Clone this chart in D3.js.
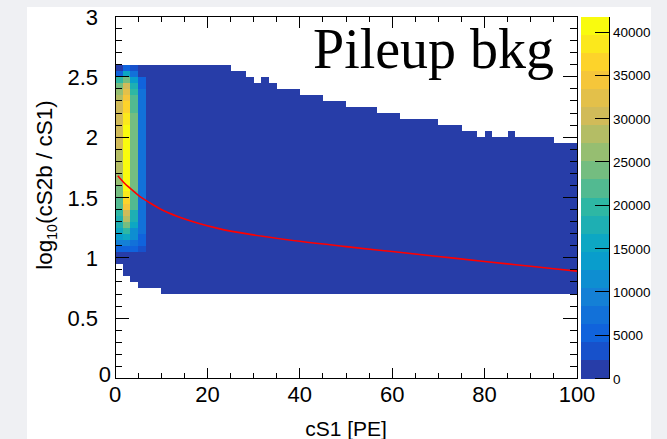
<!DOCTYPE html>
<html><head><meta charset="utf-8">
<script src="https://cdn.jsdelivr.net/npm/d3@7"></script>
<style>
body{margin:0;background:#eff0f3;}
svg{display:block;}
</style>
</head><body>
<svg id="chart" width="667" height="439"></svg>
<script>
// ---------------- DATA ----------------
const xDomain = [0, 100];
const yDomain = [0, 3];
const nXBins = 60;            // cS1 bins over 0..100
const yBinWidth = 0.05;       // log10 bins
// upper edge (log10) of the filled region for each cS1 bin
const topEdge = [2.6,2.6,2.6,2.6,2.6,2.6,2.6,2.6,2.6,2.6,2.6,2.6,2.6,2.6,2.6,
  2.55,2.55,2.5,2.45,2.5,2.45,2.4,2.4,2.4,2.35,2.35,2.35,2.3,2.3,2.3,
  2.25,2.25,2.25,2.25,2.2,2.2,2.2,2.15,2.15,2.15,2.15,2.15,2.1,2.1,2.1,
  2.05,2.05,2.0,2.05,2.0,2.0,2.05,2.0,2.0,2.0,2.0,2.0,1.95,1.95,1.95];
// lower edge (log10) of the filled region for each cS1 bin
const bottomEdge = [0.95,0.85,0.8,0.75,0.75,0.75,
  0.7,0.7,0.7,0.7,0.7,0.7,0.7,0.7,0.7,0.7,0.7,0.7,0.7,0.7,0.7,0.7,0.7,0.7,
  0.7,0.7,0.7,0.7,0.7,0.7,0.7,0.7,0.7,0.7,0.7,0.7,0.7,0.7,0.7,0.7,0.7,0.7,
  0.7,0.7,0.7,0.7,0.7,0.7,0.7,0.7,0.7,0.7,0.7,0.7,0.7,0.7,0.7,0.7,0.7,0.7];
const lowCount = 800;   // typical content of the bulk (lowest colour level)
// dense low-cS1 columns: rows from log10 = 2.55-2.60 (top) down to 0.95-1.00
const denseTop = 2.6;
const col0 = [800,5200,19900,24000,26100,28200,30300,30300,30300,30300,30300,30300,30300,30300,
  28200,28200,28200,28200,26100,26100,24000,24000,22000,22000,19900,17800,17800,15700,13600,9400,5200,800,800];
const col1 = [5200,15700,24000,30300,32400,34500,36600,36600,38700,38700,
  40800,40800,40800,40800,40800,40800,40800,40800,40800,40800,40800,
  38700,36600,34500,30300,28200,24000,19900,15700,9400,5200,800,800];
const col2 = [3100,7300,13600,17800,19900,22000,22000,22000,
  24000,24000,24000,24000,24000,24000,24000,24000,24000,24000,24000,24000,24000,
  22000,22000,22000,17800,17800,15700,11500,11500,7300,5200,800,800];
const col3 = [800,800,5200,5200,
  7300,7300,7300,7300,7300,7300,7300,7300,7300,7300,7300,7300,7300,7300,7300,7300,7300,7300,7300,7300,7300,7300,7300,7300,
  5200,5200,3100,800,800];
const denseCols = [col0, col1, col2, col3];
// red cut curve
const curveX = [0.6, 2, 3.25, 5, 7.6, 10, 14, 18, 22.7, 30, 40, 50, 60, 70, 80, 90, 100];
const curveY = [1.68, 1.62, 1.577, 1.52, 1.454, 1.40, 1.336, 1.286, 1.24, 1.19, 1.137, 1.093, 1.052, 1.011, 0.970, 0.930, 0.89];
// ticks
const xTicks = [0, 20, 40, 60, 80, 100];
const yTicks = [0, 0.5, 1, 1.5, 2, 2.5, 3];
const zTicks = [0, 5000, 10000, 15000, 20000, 25000, 30000, 35000, 40000];
const zMax = 41800;
const nContours = 20;
// ROOT kBird palette
const birdStops = [0.0000, 0.1250, 0.2500, 0.3750, 0.5000, 0.6250, 0.7500, 0.8750, 1.0000];
const birdRed   = [0.2082, 0.0592, 0.0780, 0.0232, 0.1802, 0.5301, 0.8186, 0.9956, 0.9764];
const birdGreen = [0.1664, 0.3599, 0.5041, 0.6419, 0.7178, 0.7492, 0.7328, 0.7862, 0.9832];
const birdBlue  = [0.5293, 0.8684, 0.8385, 0.7914, 0.6425, 0.4662, 0.3499, 0.1968, 0.0539];

// ---------------- LAYOUT ----------------
const svg = d3.select("#chart");
const W = 667, H = 439;
const frame = {l: 115, r: 577, t: 16.5, b: 378.5};
const pal = {l: 581, r: 609};
const fontSans = "'Liberation Sans', Arial, Helvetica, sans-serif";

const x = d3.scaleLinear().domain(xDomain).range([frame.l, frame.r]);
const y = d3.scaleLinear().domain(yDomain).range([frame.b, frame.t]);
const z = d3.scaleLinear().domain([0, zMax]).range([frame.b, frame.t]);

const bird = d3.scaleLinear().domain(birdStops)
  .range(birdStops.map((s, i) => d3.rgb(birdRed[i]*255, birdGreen[i]*255, birdBlue[i]*255)))
  .interpolate(d3.interpolateRgb);
const levelColor = L => bird(Math.floor((L + 0.99) * 255 / nContours) / 254);
const colorOf = v => levelColor(Math.min(nContours - 1, Math.floor(v / (zMax / nContours))));

// backgrounds
svg.append("rect").attr("width", W).attr("height", H).attr("fill", "#eff0f3");
svg.append("rect").attr("x", 27).attr("y", 7).attr("width", 624).attr("height", H - 7).attr("fill", "#ffffff");

// ---------------- CELLS ----------------
const cells = [];
const binW = (xDomain[1] - xDomain[0]) / nXBins;
for (let i = 0; i < nXBins; i++) {
  const nRows = Math.round((topEdge[i] - bottomEdge[i]) / yBinWidth);
  for (let r = 0; r < nRows; r++) {
    const ylo = bottomEdge[i] + r * yBinWidth;
    let v = lowCount;
    if (i < denseCols.length) {
      const k = Math.round((denseTop - (ylo + yBinWidth)) / yBinWidth);
      if (k >= 0 && k < denseCols[i].length) v = denseCols[i][k];
    }
    cells.push({x0: xDomain[0] + i * binW, x1: xDomain[0] + (i + 1) * binW, y0: ylo, y1: ylo + yBinWidth, v});
  }
}
svg.append("g").attr("shape-rendering", "crispEdges")
  .selectAll("rect").data(cells).join("rect")
  .attr("x", d => Math.round(x(d.x0)))
  .attr("width", d => Math.round(x(d.x1)) - Math.round(x(d.x0)))
  .attr("y", d => Math.round(y(d.y1)))
  .attr("height", d => Math.round(y(d.y0)) - Math.round(y(d.y1)))
  .attr("fill", d => colorOf(d.v));

// ---------------- CURVE ----------------
svg.append("clipPath").attr("id", "fclip").append("rect")
  .attr("x", frame.l).attr("y", frame.t).attr("width", frame.r - frame.l).attr("height", frame.b - frame.t);
svg.append("path")
  .datum(curveX.map((cx, i) => [cx, curveY[i]]))
  .attr("clip-path", "url(#fclip)")
  .attr("fill", "none").attr("stroke", "#ff0000").attr("stroke-width", 1.6)
  .attr("d", d3.line().x(d => x(d[0])).y(d => y(d[1])).curve(d3.curveMonotoneX));

// ---------------- FRAME & TICKS ----------------
const axG = svg.append("g").attr("stroke", "#000").attr("stroke-width", 1).attr("shape-rendering", "crispEdges");
axG.append("rect").attr("x", frame.l).attr("y", frame.t).attr("width", frame.r - frame.l)
  .attr("height", frame.b - frame.t).attr("fill", "none");
const xMinor = d3.range(0, 101, 5);
const yMinor = d3.range(0, 31, 1).map(v => v / 10);
const xMajLen = 11, xMinLen = 5.5, yMajLen = 14, yMinLen = 7;
xMinor.forEach(v => {
  const isMaj = xTicks.includes(v);
  const L = isMaj ? xMajLen : xMinLen;
  axG.append("line").attr("x1", x(v)).attr("x2", x(v)).attr("y1", frame.b).attr("y2", frame.b - L);
  axG.append("line").attr("x1", x(v)).attr("x2", x(v)).attr("y1", frame.t).attr("y2", frame.t + L);
});
yMinor.forEach(v => {
  const isMaj = yTicks.some(t => Math.abs(t - v) < 1e-9);
  const L = isMaj ? yMajLen : yMinLen;
  axG.append("line").attr("y1", y(v)).attr("y2", y(v)).attr("x1", frame.l).attr("x2", frame.l + L);
  axG.append("line").attr("y1", y(v)).attr("y2", y(v)).attr("x1", frame.r).attr("x2", frame.r - L);
});

// tick labels
svg.append("g").selectAll("text").data(xTicks).join("text")
  .attr("x", d => x(d)).attr("y", frame.b + 23)
  .attr("text-anchor", "middle").attr("font-family", fontSans).attr("font-size", 22).attr("fill", "#000")
  .text(d => d);
svg.append("g").selectAll("text").data(yTicks).join("text")
  .attr("x", d => d === 0 ? frame.l - 4 : frame.l - 17)
  .attr("y", d => d === 0 ? y(d) + 3 : y(d) + 8)
  .attr("text-anchor", "end").attr("font-family", fontSans).attr("font-size", 22).attr("fill", "#000")
  .text(d => d);

// axis titles
svg.append("text").attr("x", (frame.l + frame.r) / 2).attr("y", 436)
  .attr("text-anchor", "middle").attr("font-family", fontSans).attr("font-size", 21).text("cS1 [PE]");
const yt = svg.append("text").attr("transform", "translate(52,185) rotate(-90)")
  .attr("text-anchor", "middle").attr("font-family", fontSans).attr("font-size", 22.5);
yt.append("tspan").text("log");
yt.append("tspan").attr("font-size", 14).attr("dy", 5).text("10");
yt.append("tspan").attr("dy", -5).text("(cS2b / cS1)");

// ---------------- PALETTE ----------------
const levels = d3.range(nContours);
const step = zMax / nContours;
svg.append("g").attr("shape-rendering", "crispEdges").selectAll("rect").data(levels).join("rect")
  .attr("x", pal.l).attr("width", pal.r - pal.l)
  .attr("y", L => Math.round(z((L + 1) * step)))
  .attr("height", L => Math.round(z(L * step)) - Math.round(z((L + 1) * step)))
  .attr("fill", L => levelColor(L));
const pg = svg.append("g").attr("stroke", "#000").attr("shape-rendering", "crispEdges");
pg.append("line").attr("x1", pal.r).attr("x2", pal.r).attr("y1", frame.t).attr("y2", frame.b);
zTicks.forEach(t => {
  pg.append("line").attr("x1", pal.r).attr("x2", pal.r - 14).attr("y1", z(t)).attr("y2", z(t));
});
svg.append("g").selectAll("text").data(zTicks).join("text")
  .attr("x", pal.r + 4).attr("y", d => z(d) + 5)
  .attr("font-family", fontSans).attr("font-size", 13.5).attr("fill", "#000")
  .text(d => d);

// ---------------- LABEL ----------------
svg.append("text").attr("x", 313).attr("y", 68)
  .attr("font-family", "'Liberation Serif', 'Times New Roman', serif").attr("font-size", 56)
  .attr("fill", "#000").text("Pileup bkg");
</script>
</body></html>
